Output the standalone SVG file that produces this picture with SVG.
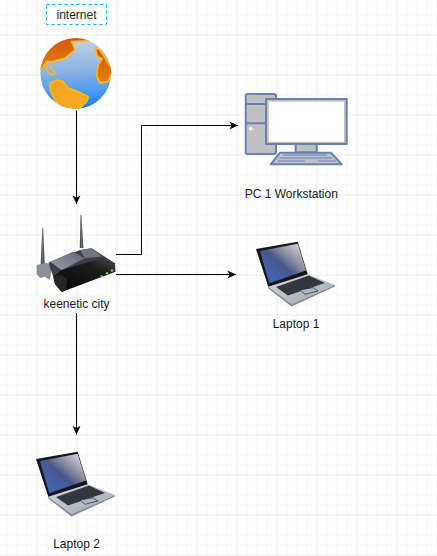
<svg xmlns="http://www.w3.org/2000/svg" xmlns:xlink="http://www.w3.org/1999/xlink" width="437" height="556" viewBox="0 0 437 556">
<style>
.lbl{font-family:"Liberation Sans",Arial,sans-serif;font-size:12px;fill:#1a1a1a;text-anchor:middle}
.edge{fill:none;stroke:#000;stroke-width:1}
.pc{stroke:#6881b3;stroke-width:2;fill:#c0c0c0;stroke-linejoin:round}
.coast{stroke:#f9b71f;stroke-width:1.800;stroke-linejoin:round}
</style>
<defs>
<pattern id="gMinor" width="10" height="10" patternUnits="userSpaceOnUse" x="-3.500" y="-5.500"><path d="M10 0H0V10" fill="none" stroke="#f6f6f6" stroke-width="1.500"/></pattern>
<pattern id="gMajor" width="40" height="40" patternUnits="userSpaceOnUse" x="-3.500" y="-5.500"><path d="M40 0H0V40" fill="none" stroke="#e2e2e2" stroke-width="1"/></pattern>
<marker id="arrow" markerWidth="10" markerHeight="10" refX="8.600" refY="4.500" orient="auto" markerUnits="userSpaceOnUse"><path d="M0 0.500L8.600 4.500L0 8.500L2.200 4.500Z" fill="#000"/></marker>
<clipPath id="earth"><circle cx="75.700" cy="73.500" r="35.500"/></clipPath>
<linearGradient id="ocean" x1="0.500" y1="0" x2="0.550" y2="1"><stop offset="0" stop-color="#c6d3e6"/><stop offset=".45" stop-color="#8eb2e0"/><stop offset=".75" stop-color="#4f9bf0"/><stop offset="1" stop-color="#0a7cf5"/></linearGradient>
<linearGradient id="landA" x1="0" y1="0" x2="0" y2="1"><stop offset="0" stop-color="#d2530a"/><stop offset="1" stop-color="#e6800f"/></linearGradient>
<linearGradient id="landB" x1="0" y1="0" x2="1" y2="1"><stop offset="0" stop-color="#f0a024"/><stop offset="1" stop-color="#f5ae1e"/></linearGradient>
<linearGradient id="screen" x1="0" y1="1" x2="1" y2="0"><stop offset="0" stop-color="#3d6ac6"/><stop offset=".48" stop-color="#47598c"/><stop offset=".62" stop-color="#7f8398"/><stop offset="1" stop-color="#eaeaee"/></linearGradient>
<linearGradient id="base" x1="0" y1="0" x2="1" y2="1"><stop offset="0" stop-color="#d4d8dd"/><stop offset="1" stop-color="#9aa7b4"/></linearGradient>
<linearGradient id="rTop" x1="0" y1="1" x2="1" y2="0"><stop offset="0" stop-color="#9a9eaa"/><stop offset="1" stop-color="#5f6472"/></linearGradient>
<linearGradient id="rFront" x1="0" y1="1" x2="1" y2="0"><stop offset="0" stop-color="#050505"/><stop offset=".7" stop-color="#1c1c1c"/><stop offset="1" stop-color="#4a4a4a"/></linearGradient>
<linearGradient id="ant" x1="0" y1="0" x2="1" y2="0"><stop offset="0" stop-color="#30353c"/><stop offset=".5" stop-color="#6c727c"/><stop offset="1" stop-color="#24282e"/></linearGradient>
<g id="laptop">
<path d="M268.300 286.700L307.700 274.300L335 285L291.700 304Z" fill="url(#base)"/>
<path d="M268.300 286.700L291.700 304L335 285L335 286.500L291.500 306.500L268.300 288.500Z" fill="#838c97"/>
<path d="M256 249L297.700 241.700L307.700 274.300L268.300 286.700Z" fill="#17171b"/>
<path d="M260 251L297.700 243.800L306 270.500L269.300 283.300Z" fill="url(#screen)"/>
<path d="M276 287L309 275.500L325 283L288 295.500Z" fill="#33383c"/>
<path d="M300 290L313 287.700L318 291L305 294.300Z" fill="#aeb8c4" stroke="#22262c" stroke-width=".7"/>
</g>
</defs>
<rect width="437" height="556" fill="#fff"/>
<rect width="437" height="556" fill="url(#gMinor)"/>
<rect width="437" height="556" fill="url(#gMajor)"/>

<g id="connectors">
<path class="edge" d="M76.500 110V204" marker-end="url(#arrow)"/>
<path class="edge" d="M116 254.500H141.500V125.500H238" marker-end="url(#arrow)"/>
<path class="edge" d="M116 274.500H236" marker-end="url(#arrow)"/>
<path class="edge" d="M76.500 313V434.500" marker-end="url(#arrow)"/>
</g>

<g id="node-internet-label">
<rect x="46.500" y="4.500" width="60" height="20" fill="#fff" stroke="#00aaff" stroke-width="1" stroke-dasharray="3 3"/>
<text class="lbl" x="76.500" y="18.500">internet</text>
</g>

<g id="node-globe">
<circle cx="75.700" cy="73.500" r="36.800" fill="#fff"/>
<g clip-path="url(#earth)">
<circle cx="75.700" cy="73.500" r="35.500" fill="url(#ocean)"/>
<path d="M38 72L40.700 70L46.700 61.700L53 61.700L65 58.300L75 50L71.700 41.700L88.300 40.700L88 34L38 34Z" fill="url(#landA)" class="coast"/>
<path d="M47 62C45.500 68 47 72 50 74C53 76 56 74 54 71C52 69 50 68 50 65" fill="none" class="coast"/>
<path d="M95 47L100 50L104 56L113 71L108 81.700L100 83L96.700 76.700L98 65L102 59L97 56Z" fill="url(#landA)" class="coast"/>
<path d="M50 83.300L56.700 80L63.300 81.700L68.300 88.300L78.300 91.700L88.300 96.700L86.700 101.700L76.700 111L63.300 111L55 100L50 90Z" fill="url(#landB)" class="coast"/>
</g>
</g>

<g id="node-pc">
<rect class="pc" x="245.700" y="94" width="30.300" height="60" rx="2"/>
<path class="pc" d="M245.700 104H276M245.700 123.300H276" fill="none"/>
<circle cx="250.700" cy="128.700" r="1.800" fill="#fff"/>
<rect class="pc" x="266" y="99" width="80.700" height="45"/>
<rect x="268.700" y="101.700" width="75.300" height="40" fill="#fff"/>
<rect class="pc" x="295.700" y="144" width="21" height="8.300"/>
<path class="pc" d="M280 152.700H331L341.700 164.300H270.700Z"/>
<path d="M283 155H327M280 158H332M278 161H305M318 161H336" stroke="#6881b3" stroke-width="1.200" fill="none"/>
</g>

<g id="node-router">
<path d="M80.500 215L79.800 248H83.300L81.500 215Z" fill="url(#ant)"/>
<path d="M42.300 228L40.700 264H44.700L43.200 228Z" fill="url(#ant)"/>
<path d="M36.700 265L46.700 262.700L52 267L50 280L45 277L40 278L36.700 274Z" fill="#8b8f98"/>
<path d="M48.300 262.700L80 250L91.700 248.300L115 263.300L115 268L62 276L53.300 276.700Z" fill="#3c3f48"/>
<path d="M50 261.700L73 251.700L85 258.300L61.700 270Z" fill="url(#rTop)"/>
<path d="M80 250L91.700 248.300L101.700 256.500L85 258.300Z" fill="#70757f"/>
<path d="M53.300 276.700L61.700 270L101.700 258.300L115 263.300L115.500 271.700L61.700 292L55 284Z" fill="url(#rFront)"/>
<path d="M53.300 276.500L60 274.500L67 279L66 290L61.700 292L55 284Z" fill="#262626"/>
<circle cx="101.700" cy="276.500" r="1.200" fill="#4fe04f"/>
<circle cx="107" cy="273.300" r="1.200" fill="#4fe04f"/>
<circle cx="112" cy="270.500" r="1.200" fill="#4fe04f"/>
<text class="lbl" x="76.500" y="308">keenetic city</text>
</g>

<g id="node-laptop-1"><use href="#laptop" xlink:href="#laptop"/><text class="lbl" x="296" y="328">Laptop 1</text></g>
<g id="node-laptop-2"><use href="#laptop" xlink:href="#laptop" transform="translate(-220 210)"/><text class="lbl" x="76.500" y="548">Laptop 2</text></g>
<g id="node-pc-label"><text class="lbl" x="291.300" y="198">PC 1 Workstation</text></g>
</svg>
